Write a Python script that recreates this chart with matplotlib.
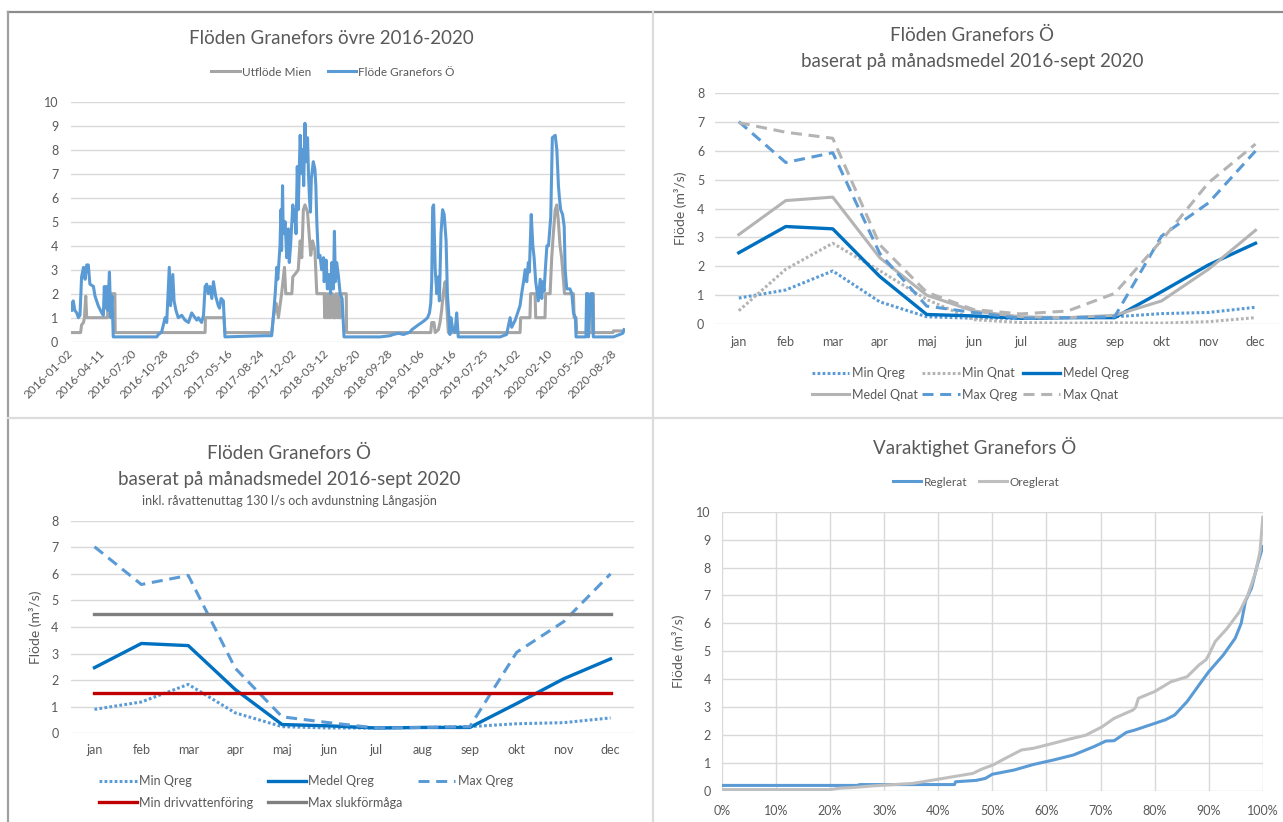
import matplotlib.pyplot as plt
import matplotlib.dates as mdates
from matplotlib.lines import Line2D
import pandas as pd

plt.rcParams['font.family'] = ['Lato', 'DejaVu Sans']

TXT = "#595959"
GRID = "#d9d9d9"
BLUE = "#5b9bd5"
DBLUE = "#0070c0"
GRAY = "#a5a5a5"
QNAT = "#b4b4b4"
RED = "#c00000"
DGRAY = "#7f7f7f"

# ---- daily flows 2016-2020 (day offset from 2016-01-02, m3/s) ----
start_date = "2016-01-02"
mien_day = [0, 31, 34, 40, 43, 47, 50, 115, 118, 138, 139,
            420, 421, 479, 482,
            628, 633, 642, 649, 659, 668, 672, 691, 694, 706, 711, 717, 722,
            727, 732, 740, 746, 750, 756, 763, 769, 792, 794, 797, 800, 804,
            806, 810, 813, 818, 821, 826, 829, 832, 836, 839, 843, 845, 861,
            862,
            1125, 1128, 1135, 1139, 1149, 1154, 1159, 1164, 1170, 1175, 1180,
            1404, 1406, 1435, 1437, 1451, 1453, 1482, 1484, 1498, 1503, 1508,
            1514, 1519, 1524, 1529, 1534, 1543, 1571, 1573, 1579, 1581,
            1611, 1612, 1617, 1618, 1629, 1630, 1633, 1634, 1694, 1696, 1729]
mien_val = [0.38, 0.38, 0.7, 0.8, 1.0, 1.9, 1.0, 1.0, 2.0, 2.0, 0.38,
            0.38, 1.0, 1.0, 0.38,
            0.38, 1.0, 1.6, 1.0, 2.0, 3.1, 2.0, 2.0, 2.7, 2.9, 3.0, 4.2, 3.5,
            5.5, 5.7, 5.4, 4.3, 3.6, 4.2, 3.8, 2.0, 2.0, 1.0, 2.0, 1.0, 2.0,
            1.0, 2.0, 1.0, 2.0, 1.0, 1.0, 2.0, 1.0, 2.0, 1.0, 1.0, 2.0, 2.0,
            0.38,
            0.38, 0.8, 0.8, 0.38, 0.5, 0.8, 1.3, 2.0, 2.5, 1.5, 0.38,
            0.38, 1.0, 1.0, 2.0, 2.0, 1.0, 1.0, 2.0, 2.0, 3.5, 4.5,
            5.5, 5.7, 5.0, 4.0, 3.5, 2.0, 2.0, 1.0, 1.0, 0.38,
            0.38, 2.0, 2.0, 0.38, 0.38, 2.0, 2.0, 0.38, 0.38, 0.45, 0.45]

gran_day = [0, 4, 8, 13, 19, 24, 29, 34, 40, 45, 50, 55, 60, 71, 76, 86, 97,
            102, 105, 109, 112, 116, 121, 125, 129, 133,
            269, 274, 284, 295, 300, 308, 312, 319, 323, 329, 336, 347, 357,
            368, 378, 383, 394, 399, 409, 415, 420, 425, 430, 435, 441, 446,
            453, 461, 465, 470, 477, 482,
            607, 628, 633, 639, 644, 647, 650, 654, 657, 659, 662, 664, 670,
            675, 680, 683, 687, 694, 698, 701, 704, 708, 711, 717, 722, 725,
            728, 732, 735, 740, 743, 746, 749, 752, 758, 763, 766, 769, 774,
            779, 784, 790, 792, 798, 802, 808, 812, 816, 821, 824, 827, 831,
            836, 842, 848, 854,
            967, 998, 1008, 1024, 1040, 1060, 1066, 1076, 1086, 1097, 1107,
            1115, 1121, 1125, 1128, 1131, 1134, 1139, 1144, 1149, 1152, 1157,
            1162, 1167, 1173, 1177, 1182, 1185, 1188, 1194, 1201, 1206, 1211,
            1342, 1352, 1362, 1373, 1378, 1389, 1399, 1404, 1409, 1415, 1420,
            1425, 1430, 1433, 1439, 1444, 1448, 1453, 1458, 1461, 1467, 1472,
            1475, 1479, 1484, 1488, 1493, 1496, 1500, 1505, 1514, 1519, 1524,
            1527, 1531, 1537, 1542, 1545, 1550, 1560, 1566, 1571, 1577, 1579,
            1610, 1612, 1615, 1618, 1625, 1631, 1633, 1696, 1706, 1725, 1729]
gran_val = [1.6, 1.3, 1.7, 1.3, 1.2, 1.0, 1.1, 2.7, 3.1, 2.6, 3.2, 3.2, 2.4,
            2.3, 1.9, 1.5, 1.2, 1.1, 2.3, 1.4, 2.3, 1.3, 2.9, 1.0, 1.9, 0.2,
            0.2, 0.3, 0.4, 1.0, 0.8, 3.1, 1.5, 2.8, 1.7, 1.3, 1.0, 1.1, 0.9,
            0.8, 1.2, 1.1, 0.9, 1.0, 0.8, 1.1, 2.3, 2.4, 2.0, 2.3, 1.8, 2.5,
            1.9, 1.5, 1.4, 1.8, 1.7, 0.2,
            0.25, 0.25, 1.0, 2.0, 3.1, 2.6, 3.2, 4.0, 5.5, 3.8, 6.5, 4.5, 5.0,
            3.5, 4.7, 3.3, 4.0, 5.7, 5.0, 5.5, 4.5, 7.3, 5.5, 8.6, 7.0, 8.0,
            6.5, 9.1, 7.5, 8.5, 7.0, 6.0, 5.4, 6.8, 7.5, 7.2, 6.5, 5.0, 3.5,
            3.6, 3.0, 3.5, 2.5, 3.4, 2.2, 2.8, 2.0, 3.3, 2.2, 4.6, 2.5, 3.3,
            2.8, 2.0, 1.8, 0.2,
            0.2, 0.25, 0.3, 0.35, 0.3, 0.4, 0.5, 0.6, 0.7, 0.8, 0.9,
            1.0, 1.2, 1.6, 2.5, 5.6, 5.7, 3.0, 2.0, 2.7, 1.7, 4.5,
            5.5, 5.3, 4.2, 2.0, 1.0, 0.3, 1.0, 0.5, 0.4, 1.2, 0.2,
            0.2, 0.25, 0.3, 1.0, 0.6, 0.9, 1.3, 1.5, 2.0, 2.5, 3.0,
            2.5, 3.3, 2.9, 5.3, 4.0, 3.5, 2.5, 2.0, 1.7, 2.6, 1.8,
            2.5, 2.1, 3.2, 4.0, 4.0, 4.5, 5.2, 8.5, 8.6, 8.0, 6.5,
            6.0, 5.5, 5.3, 4.8, 3.0, 2.2, 2.2, 2.0, 1.2, 1.0, 0.2,
            0.2, 2.0, 2.0, 0.2, 2.0, 2.0, 0.2, 0.2, 0.25, 0.35, 0.5]

# ---- monthly means 2016-sept 2020 (m3/s) ----
months = ["jan", "feb", "mar", "apr", "maj", "jun", "jul", "aug", "sep",
          "okt", "nov", "dec"]
min_qreg = [0.9, 1.18, 1.84, 0.77, 0.25, 0.2, 0.2, 0.22, 0.25, 0.36, 0.4, 0.58]
min_qnat = [0.46, 1.9, 2.8, 1.85, 0.85, 0.15, 0.05, 0.03, 0.04, 0.03, 0.08, 0.22]
medel_qreg = [2.47, 3.38, 3.3, 1.65, 0.33, 0.28, 0.2, 0.22, 0.22, 1.12, 2.05, 2.8]
medel_qnat = [3.1, 4.28, 4.4, 2.3, 1.0, 0.45, 0.25, 0.22, 0.3, 0.8, 1.9, 3.25]
max_qreg = [7.02, 5.6, 5.94, 2.45, 0.62, 0.4, 0.2, 0.22, 0.25, 3.05, 4.2, 6.0]
max_qnat = [6.98, 6.65, 6.44, 2.75, 1.1, 0.5, 0.35, 0.45, 1.06, 2.9, 4.9, 6.24]
min_drivvatten = 1.5
max_sluk = 4.5

# ---- duration curve ----
reg_pct = [0, 25, 25.5, 43, 43.2, 47, 48.7, 50, 54, 57.6, 61.3, 65, 68.8, 71,
           72.5, 74.8, 76.3, 80, 82, 83.7, 86, 88.6, 90, 92.7, 94.9, 96, 96.8,
           97.9, 99, 100]
reg_val = [0.2, 0.2, 0.23, 0.23, 0.33, 0.38, 0.45, 0.6, 0.75, 0.95, 1.11, 1.29,
           1.59, 1.79, 1.8, 2.1, 2.18, 2.42, 2.55, 2.72, 3.2, 3.9, 4.27, 4.87,
           5.47, 6.0, 6.8, 7.26, 8.1, 8.75]
oreg_pct = [0, 20, 21.8, 24, 27, 30, 35.2, 39, 42.7, 46.4, 48, 50.1, 52.4, 55.4,
            57.6, 61.3, 64.3, 67.3, 70.3, 72.5, 76, 76.5, 77, 80, 83, 86, 88.2,
            89.5, 90, 91.2, 93.4, 95.7, 97.2, 98.7, 99.5, 100]
oreg_val = [0.05, 0.05, 0.1, 0.12, 0.17, 0.21, 0.27, 0.39, 0.51, 0.63, 0.78,
            0.93, 1.17, 1.47, 1.53, 1.71, 1.86, 2.0, 2.3, 2.6, 2.9, 3.0, 3.32,
            3.56, 3.91, 4.09, 4.51, 4.7, 4.87, 5.35, 5.82, 6.42, 7.0, 7.85, 8.6,
            9.8]

W, H = 1283, 822
fig = plt.figure(figsize=(W / 100, H / 100), dpi=100)


def box(x0, y0, x1, y1):
    return [x0 / W, 1 - y1 / H, (x1 - x0) / W, (y1 - y0) / H]


def fx(x):
    return x / W


def fy(y):
    return 1 - y / H


def style(ax, pad_y=7, pad_x=8, size=9):
    for s in ax.spines.values():
        s.set_visible(False)
    ax.grid(axis="y", color=GRID, lw=1)
    ax.set_axisbelow(True)
    ax.tick_params(length=0, colors=TXT, labelsize=size)
    ax.tick_params(axis="y", pad=pad_y)
    ax.tick_params(axis="x", pad=pad_x)


DOT = (0, (0.9, 0.75))
DASH = (0, (3.6, 2.2))

# panel frames
fig.add_artist(Line2D([fx(8), 1], [fy(12), fy(12)], color="#8c8c8c", lw=1.6))
fig.add_artist(Line2D([fx(8), fx(8)], [fy(12), 0], color="#a0a0a0", lw=1.6))
fig.add_artist(Line2D([fx(653), fx(653)], [fy(12), 0], color="#dcdcdc", lw=1.6))
fig.add_artist(Line2D([fx(8), 1], [fy(418), fy(418)], color="#dcdcdc", lw=1.6))

# ---------- top left ----------
ax1 = fig.add_axes(box(70.7, 101.7, 625, 341.7))
t0 = pd.Timestamp(start_date)
mien_dates = t0 + pd.to_timedelta(mien_day, unit="D")
gran_dates = t0 + pd.to_timedelta(gran_day, unit="D")
l_mien, = ax1.plot(mien_dates, mien_val, color=GRAY, lw=2.2)
l_gran, = ax1.plot(gran_dates, gran_val, color=BLUE, lw=2.2)
style(ax1, pad_y=9, pad_x=7, size=9)
ax1.tick_params(axis="x", labelsize=8.5)
ax1.set_ylim(0, 10)
ax1.set_yticks(range(0, 11))
ax1.set_xlim(t0, t0 + pd.Timedelta(days=1732))
ax1.set_xticks(pd.date_range(t0, periods=18, freq="100D"))
ax1.xaxis.set_major_formatter(mdates.DateFormatter("%Y-%m-%d"))
for lab in ax1.get_xticklabels():
    lab.set_rotation(45)
    lab.set_ha("right")
    lab.set_va("center")
    lab.set_rotation_mode("anchor")
fig.text(fx(331), fy(38), "Flöden Granefors övre 2016-2020", ha="center",
         va="center", fontsize=13.5, color=TXT)
fig.legend([l_mien, l_gran], ["Utflöde Mien", "Flöde Granefors Ö"],
           loc="center", bbox_to_anchor=(fx(333), fy(72)), ncol=2,
           frameon=False, fontsize=8.5, labelcolor=TXT, handlelength=2.4,
           handletextpad=0.2, columnspacing=1.4)

# ---------- top right ----------
ax2 = fig.add_axes(box(715.3, 93.3, 1279, 324))
x = range(len(months))
h_minreg, = ax2.plot(x, min_qreg, color=BLUE, lw=2.2, ls=DOT)
h_minnat, = ax2.plot(x, min_qnat, color=QNAT, lw=2.2, ls=DOT)
h_medreg, = ax2.plot(x, medel_qreg, color=DBLUE, lw=2.4)
h_mednat, = ax2.plot(x, medel_qnat, color=QNAT, lw=2.2)
h_maxreg, = ax2.plot(x, max_qreg, color=BLUE, lw=2.2, ls=DASH)
h_maxnat, = ax2.plot(x, max_qnat, color=QNAT, lw=2.2, ls=DASH)
style(ax2, pad_y=8, pad_x=9)
ax2.set_ylim(0, 8)
ax2.set_yticks(range(0, 9))
ax2.set_xlim(-0.5, 11.5)
ax2.set_xticks(list(x))
ax2.set_xticklabels(months)
ax2.set_ylabel("Flöde (m³/s)", color=TXT, fontsize=10)
ax2.yaxis.set_label_coords(-0.05, 0.5)
fig.text(fx(972), fy(35), "Flöden Granefors Ö", ha="center", va="center",
         fontsize=13.5, color=TXT)
fig.text(fx(972), fy(62), "baserat på månadsmedel 2016-sept 2020",
         ha="center", va="center", fontsize=13.5, color=TXT)
fig.legend([h_minreg, h_mednat, h_minnat, h_maxreg, h_medreg, h_maxnat],
           ["Min Qreg", "Medel Qnat", "Min Qnat", "Max Qreg", "Medel Qreg",
            "Max Qnat"],
           loc="center", bbox_to_anchor=(fx(970), fy(384)), ncol=3,
           frameon=False, fontsize=9, labelcolor=TXT, handlelength=3.0,
           handletextpad=0.2, columnspacing=0.4, labelspacing=0.75)

# ---------- bottom left ----------
ax3 = fig.add_axes(box(71, 520.7, 634, 733.3))
b_minreg, = ax3.plot(x, min_qreg, color=BLUE, lw=2.2, ls=DOT)
b_medreg, = ax3.plot(x, medel_qreg, color=DBLUE, lw=2.4)
b_maxreg, = ax3.plot(x, max_qreg, color=BLUE, lw=2.2, ls=DASH)
b_driv, = ax3.plot(x, [min_drivvatten] * len(months), color=RED, lw=2.4)
b_sluk, = ax3.plot(x, [max_sluk] * len(months), color=DGRAY, lw=2.4)
style(ax3, pad_y=9, pad_x=8)
ax3.set_ylim(0, 8)
ax3.set_yticks(range(0, 9))
ax3.set_xlim(-0.5, 11.5)
ax3.set_xticks(list(x))
ax3.set_xticklabels(months)
ax3.set_ylabel("Flöde (m³/s)", color=TXT, fontsize=10)
ax3.yaxis.set_label_coords(-0.052, 0.5)
fig.text(fx(289), fy(453), "Flöden Granefors Ö", ha="center", va="center",
         fontsize=13.5, color=TXT)
fig.text(fx(289), fy(480), "baserat på månadsmedel 2016-sept 2020",
         ha="center", va="center", fontsize=13.5, color=TXT)
fig.text(fx(289), fy(501),
         "inkl. råvattenuttag 130 l/s och avdunstning Långasjön",
         ha="center", va="center", fontsize=9, color=TXT)
fig.legend([b_minreg, b_driv, b_medreg, b_sluk, b_maxreg],
           ["Min Qreg", "Min drivvattenföring", "Medel Qreg",
            "Max slukförmåga", "Max Qreg"],
           loc="center left", bbox_to_anchor=(fx(88), fy(792)), ncol=3,
           frameon=False, fontsize=9, labelcolor=TXT, handlelength=3.0,
           handletextpad=0.2, columnspacing=1.2, labelspacing=0.75)

# ---------- bottom right ----------
ax4 = fig.add_axes(box(721.9, 511.7, 1262.8, 791))
r_reg, = ax4.plot(reg_pct, reg_val, color=BLUE, lw=2.2)
r_oreg, = ax4.plot(oreg_pct, oreg_val, color="#bfbfbf", lw=2.2)
style(ax4, pad_y=8, pad_x=10)
ax4.grid(axis="x", color=GRID, lw=1)
ax4.set_ylim(0, 10)
ax4.set_yticks(range(0, 11))
ax4.set_xlim(0, 100)
ax4.set_xticks(range(0, 101, 10))
ax4.set_xticklabels([f"{v}%" for v in range(0, 101, 10)])
ax4.set_ylabel("Flöde (m³/s)", color=TXT, fontsize=10)
ax4.yaxis.set_label_coords(-0.068, 0.5)
fig.text(fx(975), fy(447), "Varaktighet Granefors Ö", ha="center",
         va="center", fontsize=13.5, color=TXT)
fig.legend([r_reg, r_oreg], ["Reglerat", "Oreglerat"], loc="center",
           bbox_to_anchor=(fx(976), fy(482)), ncol=2, frameon=False,
           fontsize=8.5, labelcolor=TXT, handlelength=2.4, handletextpad=0.2,
           columnspacing=1.0)

fig.savefig("out.png", dpi=100)
